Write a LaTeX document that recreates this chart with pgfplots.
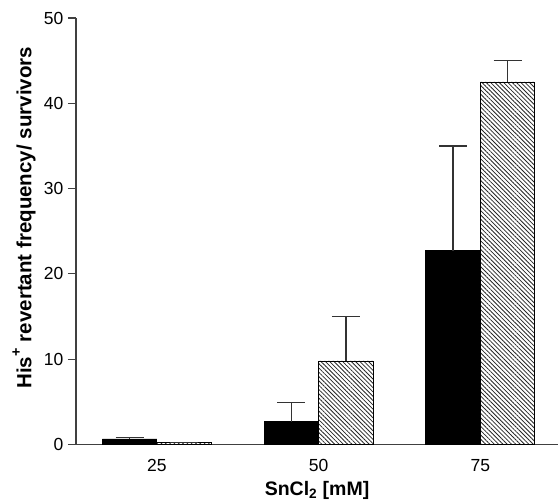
\documentclass[border=0pt]{standalone}
\usepackage{pgfplots}
\pgfplotsset{compat=1.18}
\usepackage{fontspec}
\setmainfont{Liberation Sans}
\usetikzlibrary{patterns,patterns.meta}
\begin{document}
\begin{tikzpicture}[x=1pt,y=1pt]
\begin{axis}[
  name=ax,
  scale only axis, width=482pt, height=426.5pt,
  ybar=0pt, bar width=54.5pt,
  xmin=-0.5, xmax=2.48, ymin=0, ymax=50,
  xtick={0,1,2}, xticklabels={25,50,75},
  ytick={0,10,20,30,40,50},
  axis x line*=bottom, axis y line*=left,
  axis line style={line width=1.2pt, draw=black!75},
  tick align=outside, major tick length=8pt,
  ytick style={line width=1.2pt, draw=black!75},
  xtick style={draw=none},
  /pgf/number format/assume math mode=true,
  tick label style={font=\fontsize{17.5}{20}\selectfont},
  yticklabel style={xshift=-1pt},
  xticklabel style={yshift=-3pt},
  xlabel={\bfseries\fontsize{19.5}{22}\selectfont SnCl\textsubscript{2} [mM]},
  ylabel={\bfseries\fontsize{20.5}{23}\selectfont His\raisebox{3pt}{\textsuperscript{+}} revertant frequency/ survivors},
  ylabel style={at={(rel axis cs:0,0.5)}, anchor=center, xshift=13.5pt, yshift=52pt},
  xlabel style={yshift=-3pt},
  error bars/y dir=plus, error bars/y explicit,
  error bars/error bar style={line width=1.3pt, draw=black!80},
  error bars/error mark options={line width=1.3pt, draw=black!80, mark size=14pt, rotate=90},
  clip=false,
]
\addplot[fill=black, draw=black, line width=0.8pt] coordinates {
  (0,0.65) +- (0,0.2)
  (1,2.67) +- (0,2.23)
  (2,22.7) +- (0,12.3)
};
\addplot[pattern={Lines[angle=-45, distance=3.05pt, line width=0.8pt]}, pattern color=black!85, draw=black, line width=0.8pt] coordinates {
  (0,0.25) +- (0,0)
  (1,9.8) +- (0,5.2)
  (2,42.5) +- (0,2.5)
};
\end{axis}
\pgfresetboundingbox
\path ([shift={(-76pt,-57.5pt)}]ax.south west) rectangle ([shift={(0pt,18pt)}]ax.north east);
\end{tikzpicture}
\end{document}
